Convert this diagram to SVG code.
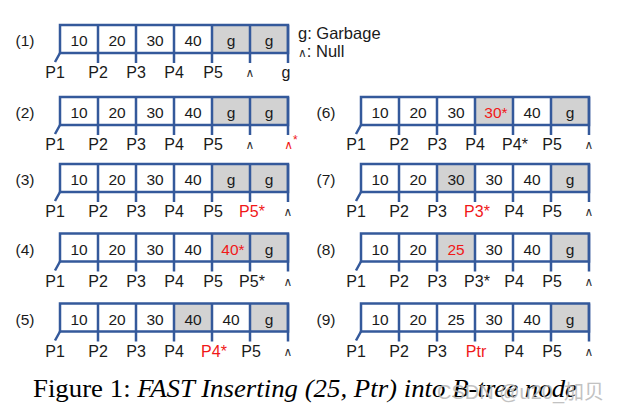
<svg xmlns="http://www.w3.org/2000/svg" width="631" height="413" viewBox="0 0 631 413">
<style>
.bg{fill:#fff}
.gray{fill:#d2d2d2}
.frame{fill:none;stroke:#34599b;stroke-width:2.5}
.tick{fill:none;stroke:#34599b;stroke-width:2.5}
.t{font-family:"Liberation Sans",Arial,sans-serif;font-size:15.5px;fill:#1a1a1a;text-anchor:middle}
.p{font-size:16px}
.nul{font-family:"DejaVu Sans",sans-serif;font-size:12px;fill:#333;text-anchor:middle}
.t.r,.nul.r{fill:#f01818}
.lg{font-family:"Liberation Sans",Arial,sans-serif;font-size:16.5px;fill:#1a1a1a}
.cap{font-family:"Liberation Serif","Times New Roman",serif;font-size:26px;fill:#000}
.wm{font-family:"Liberation Sans","Noto Sans CJK SC",sans-serif;font-size:20px;fill:#b8b8b8;opacity:0.85}
</style>
<defs>
<g id="frame">
<rect class="frame" x="0" y="0" width="228" height="28"/>
<path class="tick" d="M38 0V38M76 0V38M114 0V38M152 0V38M190 0V38M228 0V38M0 28L-5 37"/>
</g>
</defs>
<rect class="bg" x="0" y="0" width="631" height="413"/>

<g id="row1" transform="translate(60,25)">
<rect class="gray" x="152" y="0" width="76" height="28"/>
<use href="#frame"/>
<text class="t" x="-35" y="21">(1)</text>
<text class="t" x="19" y="21">10</text><text class="t" x="57" y="21">20</text><text class="t" x="95" y="21">30</text><text class="t" x="133" y="21">40</text><text class="t" x="171" y="21">g</text><text class="t" x="209" y="21">g</text>
<text class="t p" x="-5" y="53">P1</text><text class="t p" x="38" y="53">P2</text><text class="t p" x="76" y="53">P3</text><text class="t p" x="114" y="53">P4</text><text class="t p" x="153" y="53">P5</text><text class="nul" x="190" y="52">∧</text><text class="t p" x="226" y="53">g</text>
</g>

<g id="legend">
<text class="lg" x="298" y="39">g: Garbage</text>
<text class="lg" x="298" y="57"><tspan class="nul" style="text-anchor:start">∧</tspan>: Null</text>
</g>

<g id="row2" transform="translate(60,97)">
<rect class="gray" x="152" y="0" width="76" height="28"/>
<use href="#frame"/>
<text class="t" x="-35" y="21">(2)</text>
<text class="t" x="19" y="21">10</text><text class="t" x="57" y="21">20</text><text class="t" x="95" y="21">30</text><text class="t" x="133" y="21">40</text><text class="t" x="171" y="21">g</text><text class="t" x="209" y="21">g</text>
<text class="t p" x="-5" y="53">P1</text><text class="t p" x="38" y="53">P2</text><text class="t p" x="76" y="53">P3</text><text class="t p" x="114" y="53">P4</text><text class="t p" x="153" y="53">P5</text><text class="nul" x="190" y="52">∧</text><text class="nul r" x="231" y="52">∧<tspan font-family="Liberation Sans" font-size="12" dy="-5">*</tspan></text>
</g>

<g id="row3" transform="translate(60,164)">
<rect class="gray" x="152" y="0" width="76" height="28"/>
<use href="#frame"/>
<text class="t" x="-35" y="21">(3)</text>
<text class="t" x="19" y="21">10</text><text class="t" x="57" y="21">20</text><text class="t" x="95" y="21">30</text><text class="t" x="133" y="21">40</text><text class="t" x="171" y="21">g</text><text class="t" x="209" y="21">g</text>
<text class="t p" x="-5" y="53">P1</text><text class="t p" x="38" y="53">P2</text><text class="t p" x="76" y="53">P3</text><text class="t p" x="114" y="53">P4</text><text class="t p" x="153" y="53">P5</text><text class="t p r" x="192" y="53">P5*</text><text class="nul" x="228" y="52">∧</text>
</g>

<g id="row4" transform="translate(60,233.5)">
<rect class="gray" x="152" y="0" width="76" height="28"/>
<use href="#frame"/>
<text class="t" x="-35" y="21">(4)</text>
<text class="t" x="19" y="21">10</text><text class="t" x="57" y="21">20</text><text class="t" x="95" y="21">30</text><text class="t" x="133" y="21">40</text><text class="t r" x="173" y="21">40*</text><text class="t" x="209" y="21">g</text>
<text class="t p" x="-5" y="53">P1</text><text class="t p" x="38" y="53">P2</text><text class="t p" x="76" y="53">P3</text><text class="t p" x="114" y="53">P4</text><text class="t p" x="153" y="53">P5</text><text class="t p" x="192" y="53">P5*</text><text class="nul" x="228" y="52">∧</text>
</g>

<g id="row5" transform="translate(60,303.5)">
<rect class="gray" x="114" y="0" width="38" height="28"/><rect class="gray" x="190" y="0" width="38" height="28"/>
<use href="#frame"/>
<text class="t" x="-35" y="21">(5)</text>
<text class="t" x="19" y="21">10</text><text class="t" x="57" y="21">20</text><text class="t" x="95" y="21">30</text><text class="t" x="133" y="21">40</text><text class="t" x="171" y="21">40</text><text class="t" x="209" y="21">g</text>
<text class="t p" x="-5" y="53">P1</text><text class="t p" x="38" y="53">P2</text><text class="t p" x="76" y="53">P3</text><text class="t p" x="114" y="53">P4</text><text class="t p r" x="154" y="53">P4*</text><text class="t p" x="191" y="53">P5</text><text class="nul" x="228" y="52">∧</text>
</g>

<g id="row6" transform="translate(361,97)">
<rect class="gray" x="114" y="0" width="38" height="28"/><rect class="gray" x="190" y="0" width="38" height="28"/>
<use href="#frame"/>
<text class="t" x="-35" y="21">(6)</text>
<text class="t" x="19" y="21">10</text><text class="t" x="57" y="21">20</text><text class="t" x="95" y="21">30</text><text class="t r" x="135" y="21">30*</text><text class="t" x="171" y="21">40</text><text class="t" x="209" y="21">g</text>
<text class="t p" x="-5" y="53">P1</text><text class="t p" x="38" y="53">P2</text><text class="t p" x="76" y="53">P3</text><text class="t p" x="114" y="53">P4</text><text class="t p" x="154" y="53">P4*</text><text class="t p" x="191" y="53">P5</text><text class="nul" x="228" y="52">∧</text>
</g>

<g id="row7" transform="translate(361,164)">
<rect class="gray" x="76" y="0" width="38" height="28"/><rect class="gray" x="190" y="0" width="38" height="28"/>
<use href="#frame"/>
<text class="t" x="-35" y="21">(7)</text>
<text class="t" x="19" y="21">10</text><text class="t" x="57" y="21">20</text><text class="t" x="95" y="21">30</text><text class="t" x="133" y="21">30</text><text class="t" x="171" y="21">40</text><text class="t" x="209" y="21">g</text>
<text class="t p" x="-5" y="53">P1</text><text class="t p" x="38" y="53">P2</text><text class="t p" x="76" y="53">P3</text><text class="t p r" x="116" y="53">P3*</text><text class="t p" x="153" y="53">P4</text><text class="t p" x="191" y="53">P5</text><text class="nul" x="228" y="52">∧</text>
</g>

<g id="row8" transform="translate(361,233.5)">
<rect class="gray" x="76" y="0" width="38" height="28"/><rect class="gray" x="190" y="0" width="38" height="28"/>
<use href="#frame"/>
<text class="t" x="-35" y="21">(8)</text>
<text class="t" x="19" y="21">10</text><text class="t" x="57" y="21">20</text><text class="t r" x="95" y="21">25</text><text class="t" x="133" y="21">30</text><text class="t" x="171" y="21">40</text><text class="t" x="209" y="21">g</text>
<text class="t p" x="-5" y="53">P1</text><text class="t p" x="38" y="53">P2</text><text class="t p" x="76" y="53">P3</text><text class="t p" x="116" y="53">P3*</text><text class="t p" x="153" y="53">P4</text><text class="t p" x="191" y="53">P5</text><text class="nul" x="228" y="52">∧</text>
</g>

<g id="row9" transform="translate(361,303.5)">
<rect class="gray" x="190" y="0" width="38" height="28"/>
<use href="#frame"/>
<text class="t" x="-35" y="21">(9)</text>
<text class="t" x="19" y="21">10</text><text class="t" x="57" y="21">20</text><text class="t" x="95" y="21">25</text><text class="t" x="133" y="21">30</text><text class="t" x="171" y="21">40</text><text class="t" x="209" y="21">g</text>
<text class="t p" x="-5" y="53">P1</text><text class="t p" x="38" y="53">P2</text><text class="t p" x="76" y="53">P3</text><text class="t p r" x="115" y="53">Ptr</text><text class="t p" x="153" y="53">P4</text><text class="t p" x="191" y="53">P5</text><text class="nul" x="228" y="52">∧</text>
</g>

<g id="caption">
<text class="cap" x="33" y="397" textLength="544" lengthAdjust="spacingAndGlyphs">Figure 1: <tspan font-style="italic">FAST Inserting (25, Ptr) into B-tree node</tspan></text>
<text class="wm" x="437" y="399">CSDN @u20_加贝</text>
</g>
</svg>
